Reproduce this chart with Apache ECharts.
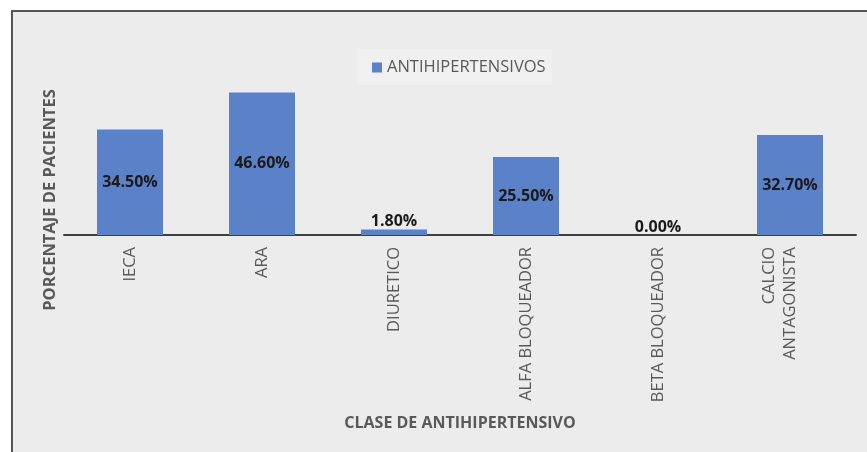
<!DOCTYPE html>
<html>
<head>
<meta charset="utf-8">
<script src="https://cdn.jsdelivr.net/npm/echarts@6/dist/echarts.min.js"></script>
<style>
  html, body { margin: 0; padding: 0; background: #ffffff; }
  #chart { width: 867px; height: 452px; }
</style>
</head>
<body>
<div id="chart"></div>
<script>
const categories = ['IECA', 'ARA', 'DIURETICO', 'ALFA BLOQUEADOR', 'BETA BLOQUEADOR', 'CALCIO\nANTAGONISTA'];
const values = [34.5, 46.6, 1.8, 25.5, 0.0, 32.7];
const seriesName = 'ANTIHIPERTENSIVOS';
const xTitle = 'CLASE DE ANTIHIPERTENSIVO';
const yTitle = 'PORCENTAJE DE PACIENTES';

const FONT = '"Open Sans", "Noto Sans", sans-serif';
const GRAY = '#595959';

const chart = echarts.init(document.getElementById('chart'), null, { renderer: 'canvas' });

chart.setOption({
  backgroundColor: '#ffffff',
  animation: false,
  graphic: [
    {
      type: 'rect', z: -10, silent: true,
      shape: { x: 12, y: 11, width: 900, height: 500 },
      style: { fill: '#ececec', stroke: '#555555', lineWidth: 2 }
    },
    {
      type: 'text', x: 50, y: 200, rotation: Math.PI / 2,
      style: {
        text: yTitle, font: 'bold 16.5px ' + FONT, fill: GRAY,
        textAlign: 'center', textVerticalAlign: 'middle'
      }
    }
  ],
  legend: {
    left: 357, top: 49,
    padding: [10, 6, 9, 15],
    backgroundColor: '#f0f0f0',
    itemWidth: 10, itemHeight: 10, itemGap: 10,
    icon: 'rect',
    textStyle: { fontFamily: FONT, fontSize: 16.5, color: GRAY },
    data: [seriesName]
  },
  grid: { left: 64, right: 11, top: 82, bottom: 217 },
  xAxis: {
    type: 'category',
    data: categories,
    axisLine: { lineStyle: { color: '#404040', width: 2 } },
    axisTick: { show: false },
    axisLabel: {
      rotate: 90, margin: 12, interval: 0,
      fontFamily: FONT, fontSize: 16.5, color: GRAY, lineHeight: 21,
      formatter: v => (v.indexOf('\n') >= 0 ? v + '\n ' : v)
    },
    name: xTitle,
    nameLocation: 'middle',
    nameGap: 180,
    nameTextStyle: { fontFamily: FONT, fontSize: 16, fontWeight: 'bold', color: GRAY }
  },
  yAxis: {
    type: 'value', min: 0, max: 50, show: false
  },
  series: [{
    name: seriesName,
    type: 'bar',
    barCategoryGap: '50%',
    itemStyle: { color: '#5b81c9' },
    data: values.map(v => ({
      value: v,
      label: { position: v < 5 ? 'top' : 'inside' }
    })),
    label: {
      show: true,
      formatter: p => p.value.toFixed(2) + '%',
      fontFamily: FONT, fontSize: 16, fontWeight: 'bold', color: '#1a1a1a',
      distance: 0
    }
  }]
});
</script>
</body>
</html>
